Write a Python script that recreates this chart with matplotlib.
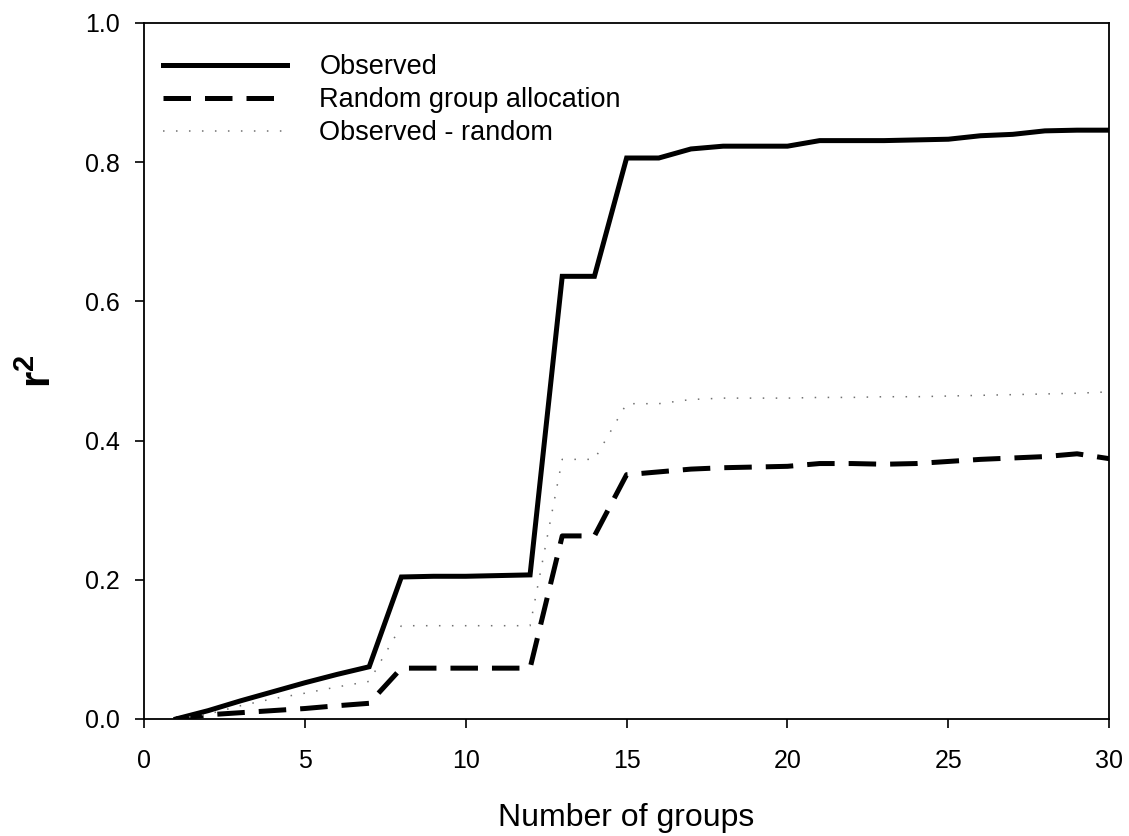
import matplotlib
matplotlib.use("Agg")
import matplotlib.pyplot as plt

plt.rcParams['font.family'] = ['Liberation Sans', 'DejaVu Sans']
plt.rcParams['mathtext.fontset'] = 'custom'
plt.rcParams['mathtext.rm'] = 'Liberation Sans'
plt.rcParams['mathtext.bf'] = 'Liberation Sans:bold'

groups = list(range(1, 31))
observed = [0.000, 0.012, 0.026, 0.039, 0.052, 0.064, 0.075, 0.204, 0.205, 0.205,
            0.206, 0.207, 0.636, 0.636, 0.806, 0.806, 0.819, 0.823, 0.823, 0.823,
            0.831, 0.831, 0.831, 0.832, 0.833, 0.838, 0.840, 0.845, 0.846, 0.846]
random_alloc = [0.000, 0.006, 0.009, 0.012, 0.015, 0.019, 0.0225, 0.073, 0.073, 0.073,
                0.073, 0.073, 0.263, 0.263, 0.351, 0.355, 0.359, 0.361, 0.362, 0.363,
                0.367, 0.367, 0.366, 0.367, 0.370, 0.373, 0.375, 0.377, 0.381, 0.374]
obs_minus_random = [0.000, 0.007, 0.019, 0.029, 0.037, 0.046, 0.054, 0.134, 0.134, 0.134,
                    0.134, 0.134, 0.373, 0.373, 0.453, 0.453, 0.459, 0.461, 0.461, 0.461,
                    0.462, 0.462, 0.463, 0.463, 0.464, 0.465, 0.466, 0.467, 0.468, 0.470]

fig = plt.figure(figsize=(11.29, 8.36), dpi=100)
ax = fig.add_axes([0.1275, 0.14, 0.855, 0.8325])

ax.plot(groups, observed, color='black', lw=3.6, solid_joinstyle='miter',
        label='Observed')
ax.plot(groups, random_alloc, color='black', lw=3.6, dashes=(5.5, 2.8),
        label='Random group allocation')
ax.plot(groups, obs_minus_random, color='#707070', lw=1.1, dashes=(1, 7.5),
        label='Observed - random')

ax.set_xlim(0, 30)
ax.set_ylim(0, 1.0)
ax.set_xticks([0, 5, 10, 15, 20, 25, 30])
ax.set_yticks([0.0, 0.2, 0.4, 0.6, 0.8, 1.0])
ax.set_yticklabels(['0.0', '0.2', '0.4', '0.6', '0.8', '1.0'])
ax.tick_params(axis='both', direction='out', length=6.5, width=1.2, labelsize=18,
               top=False, right=False)
ax.tick_params(axis='x', pad=15)
ax.tick_params(axis='y', pad=11)
for s in ax.spines.values():
    s.set_linewidth(1.3)

ax.set_xlabel('Number of groups', fontsize=23, labelpad=22)
ax.set_ylabel(r'r$^{\mathbf{2}}$', fontsize=30, fontweight='bold', labelpad=18)

ax.legend(loc='upper left', frameon=False, fontsize=19.5, handlelength=4.6,
          handletextpad=1.18, labelspacing=0.25, borderaxespad=0.3,
          bbox_to_anchor=(0.0, 0.982))

fig.savefig('out.png', dpi=100)
